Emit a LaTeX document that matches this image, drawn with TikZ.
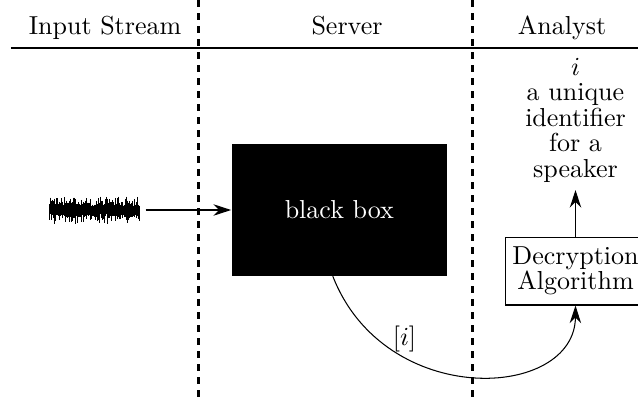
\documentclass[tikz,border=0pt]{standalone}
\usetikzlibrary{arrows.meta}
\begin{document}
\begin{tikzpicture}[x=0.3846pt,y=-0.3846pt,
  arr/.style={-{Stealth[length=6.8pt,width=4.4pt,inset=2.2pt]}},
  sepline/.style={line width=0.8pt,dash pattern=on 2.6pt off 2.4pt},
  hdr/.style={anchor=base,inner sep=0pt},
  blackbox/.style={fill=black,text=white,minimum width=82.8pt,minimum height=50.5pt,inner sep=0pt},
  algobox/.style={draw,align=center,minimum width=53.8pt,minimum height=26pt,inner sep=0pt},
  stack/.style={align=center,inner sep=2.7pt}
]
\useasboundingbox (0,0) rectangle (638,401);

% column separators and header rule
\draw[sepline] (198.5,0) -- (198.5,401);
\draw[sepline] (472.5,0) -- (472.5,401);
\draw[line width=0.7pt] (11,48.3) -- (640,48.3);

% headers
\node[hdr] (h1) at (105,34.3) {Input Stream};
\node[hdr] (h2) at (347,34.3) {Server};
\node[hdr] (h3) at (562,34.3) {Analyst};

% waveform
\node[minimum width=34.6pt,minimum height=10pt,inner sep=0pt] (wave) at (94.3,210) {};
\pgfmathsetseed{12}
\foreach \k in {0,...,180} {
  \pgfmathsetmacro\xx{49.3+\k*0.5}
  \pgfmathsetmacro\up{4+11*rnd*rnd}
  \pgfmathsetmacro\dn{4+11*rnd*rnd}
  \draw[line width=0.3pt] (\xx,210-\up) -- (\xx,210+\dn);
}

% boxes
\node[blackbox] (bb) at (339.3,210) {black box};
\node[algobox] (dec) at (575.5,271.2) {Decryption\\[-2.4pt]Algorithm};
\node[stack,anchor=south] (id) at (575.5,190) {$i$\\[-2.2pt]a unique\\[-2.2pt]identifier\\[-2.2pt]for a\\[-2.2pt]speaker};

% connectors
\draw[arr] ([xshift=2.2pt]wave.east) -- (bb.west);
\draw[arr] (dec.north) -- (id.south);
\draw[arr] ([xshift=-2.5pt]bb.south) .. controls (385,410) and (575,400) .. (dec.south);
\node (ilabel) at (404.5,338.7) {$[i]$};
\end{tikzpicture}
\end{document}
